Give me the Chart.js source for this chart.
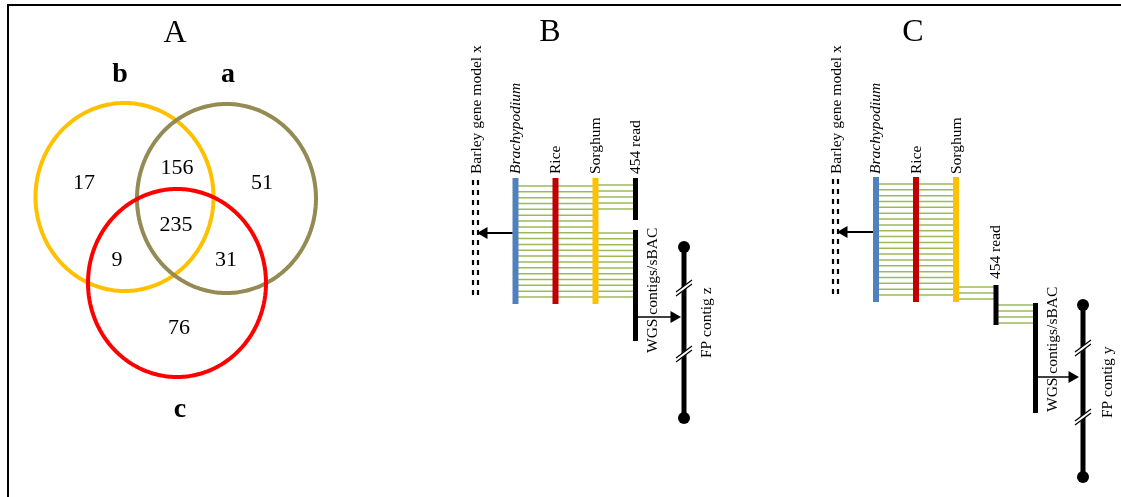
<!DOCTYPE html>
<html>
<head>
<meta charset="utf-8">
<script src="https://cdn.jsdelivr.net/npm/chart.js@4"></script>
<style>
  html, body { margin: 0; padding: 0; background: #fff; }
  #figure { display: block; }
</style>
</head>
<body>
<canvas id="figure" width="1121" height="497"></canvas>
<script>
// panel A: Venn diagram of the sets a, b, c
const panelLabels = ['A', 'B', 'C'];
const vennSets = ['a', 'b', 'c'];
const vennRegions = ['b', 'a+b', 'a', 'a+b+c', 'b+c', 'a+c', 'c'];
const vennCounts = [17, 156, 51, 235, 9, 31, 76];

// panels B and C: tracks of the two schemes
const trackNames = ['Barley gene model x', 'Brachypodium', 'Rice', 'Sorghum', '454 read', 'WGS contigs/sBAC'];
const fpContigs = ['FP contig z', 'FP contig y'];
// green links: Brachypodium-Rice, Rice-Sorghum, Sorghum-454 read, (Sorghum|454 read)-WGS
const linkCountsB = [20, 20, 5, 12];
const linkCountsC = [20, 20, 3, 4];

// ---- layout (pixels of the 1121x497 page) ----
const W = 1121, H = 497;
const serif = '"Liberation Serif", "Times New Roman", serif';
const green = '#9BBB59';

const vennCircles = [ // drawn in this order
  {set: 'b', cx: 124.5, cy: 197, rx: 89, ry: 94, color: '#FFC000'},
  {set: 'a', cx: 226.5, cy: 198.5, rx: 89.5, ry: 94.5, color: '#948A54'},
  {set: 'c', cx: 177, cy: 283, rx: 89, ry: 94, color: '#FF0000'}
];
const vennCountPos = [[84, 183], [177, 168], [262, 183], [176, 225], [117, 260], [226, 260], [179, 328]];
const vennSetPos = {a: [228, 75], b: [120, 75], c: [180, 410]};
const panelPos = [[175, 34], [550, 33], [913, 33]];

const schemes = [
  { // B
    links: linkCountsB, fp: fpContigs[0],
    xBarley: 475.5, xBra: 515.5, xRice: 555.5, xSor: 595.5, xRead: 635.5, xWgs: 635.5, xFp: 684,
    track: [178, 304], dash: [180, 298], read: [178, 220], wgs: [230, 341], fpY: [247, 418], breaks: [288, 354],
    arrowL: 233, arrowR: 317, tipL: 477, tipR: 681,
    linkMain: [186, 297], linkRead: [185, 209], linkWgs: [233, 297], wgsFrom: 'xSor',
    readLabel: [636, 174], wgsLabel: [653, 353], fpLabel: [707, 358]
  },
  { // C
    links: linkCountsC, fp: fpContigs[1],
    xBarley: 835.5, xBra: 876, xRice: 916, xSor: 956, xRead: 996, xWgs: 1035.5, xFp: 1083,
    track: [177, 302], dash: [179, 297], read: [285, 325], wgs: [303, 413], fpY: [305, 477], breaks: [348, 417],
    arrowL: 232, arrowR: 377, tipL: 837, tipR: 1079,
    linkMain: [184, 295], linkRead: [287, 299], linkWgs: [305, 323], wgsFrom: 'xRead',
    readLabel: [996, 279], wgsLabel: [1053, 412], fpLabel: [1108, 418]
  }
];

const datasets = [];
function addLine(points, color, width, extra) {
  datasets.push(Object.assign({
    type: 'line', data: points, borderColor: color, borderWidth: width,
    pointRadius: 0, fill: false, tension: 0, borderCapStyle: 'butt', spanGaps: false
  }, extra || {}));
}
function addMarker(x, y, style, radius, rotation) {
  datasets.push({
    type: 'scatter', data: [{x: x, y: y}], pointStyle: style, pointRadius: radius,
    rotation: rotation, backgroundColor: '#000', borderColor: '#000', borderWidth: 0
  });
}
function vbar(x, y0, y1, color, width) {
  addLine([{x: x, y: y0}, {x: x, y: y1}], color, width);
}
function links(x0, x1, yr, n) {
  const pts = [];
  for (let i = 0; i < n; i++) {
    const y = n > 1 ? yr[0] + (yr[1] - yr[0]) * i / (n - 1) : yr[0];
    pts.push({x: x0, y: y}, {x: x1, y: y}, {x: null, y: null});
  }
  addLine(pts, green, 1.5);
}

// frame
addLine([{x: 8, y: H}, {x: 8, y: 5}, {x: W, y: 5}], '#000', 2);

// Venn circles (tiny tension avoids the fast path that assumes sorted x)
vennCircles.forEach(c => {
  const pts = [];
  for (let i = 0; i <= 144; i++) {
    const t = i / 144 * Math.PI * 2;
    pts.push({x: c.cx + c.rx * Math.cos(t), y: c.cy + c.ry * Math.sin(t)});
  }
  addLine(pts, c.color, 4, {tension: 0.001, borderJoinStyle: 'round'});
});

// schemes B and C
schemes.forEach(s => {
  links(s.xBra, s.xRice, s.linkMain, s.links[0]);
  links(s.xRice, s.xSor, s.linkMain, s.links[1]);
  links(s.xSor, s.xRead, s.linkRead, s.links[2]);
  links(s[s.wgsFrom], s.xWgs, s.linkWgs, s.links[3]);

  // barley gene model: double dashed line
  [-2.5, 2.5].forEach(d => addLine([{x: s.xBarley + d, y: s.dash[0]}, {x: s.xBarley + d, y: s.dash[1]}], '#000', 2.2, {borderDash: [5, 5]}));

  vbar(s.xBra, s.track[0], s.track[1], '#4F81BD', 6);
  vbar(s.xRice, s.track[0], s.track[1], '#C00000', 6);
  vbar(s.xSor, s.track[0], s.track[1], '#FFC000', 6);
  vbar(s.xRead, s.read[0], s.read[1], '#000', 5);
  vbar(s.xWgs, s.wgs[0], s.wgs[1], '#000', 5);
  vbar(s.xFp, s.fpY[0], s.fpY[1], '#000', 5);
  addMarker(s.xFp, s.fpY[0], 'circle', 6, 0);
  addMarker(s.xFp, s.fpY[1], 'circle', 6, 0);

  // breaks on the FP contig
  s.breaks.forEach(b => {
    addLine([{x: s.xFp - 8, y: b + 6}, {x: s.xFp + 8, y: b - 6}], '#fff', 3.5);
    addLine([{x: s.xFp - 8, y: b + 4}, {x: s.xFp + 8, y: b - 8}, {x: null, y: null},
             {x: s.xFp - 8, y: b + 8}, {x: s.xFp + 8, y: b - 4}], '#000', 1.2);
  });

  // arrows
  addLine([{x: s.xBra - 3, y: s.arrowL}, {x: s.tipL + 10, y: s.arrowL}], '#000', 2);
  addMarker(s.tipL + 7, s.arrowL, 'triangle', 7, -90);
  addLine([{x: s.xWgs + 2, y: s.arrowR}, {x: s.tipR - 9, y: s.arrowR}], '#000', 1.5);
  addMarker(s.tipR - 7, s.arrowR, 'triangle', 7, 90);
});

datasets.forEach((d, i) => { d.order = -i; });

// texts
const texts = [];
function addText(text, x, y, font, rotate, align) {
  texts.push({text: text, x: x, y: y, font: font, rotate: rotate, align: align || 'center'});
}
panelLabels.forEach((p, i) => addText(p, panelPos[i][0], panelPos[i][1], '32px ' + serif, false));
vennSets.forEach(s => addText(s, vennSetPos[s][0], vennSetPos[s][1], 'bold 28px ' + serif, false));
vennCounts.forEach((v, i) => addText(String(v), vennCountPos[i][0], vennCountPos[i][1], '22px ' + serif, false));
const lab = '15.5px ' + serif;
schemes.forEach(s => {
  addText(trackNames[0], s.xBarley + 1, 174, lab, true, 'left');
  addText(trackNames[1], s.xBra, 174, 'italic ' + lab, true, 'left');
  addText(trackNames[2], s.xRice + 0.5, 174, lab, true, 'left');
  addText(trackNames[3], s.xSor + 0.5, 174, lab, true, 'left');
  addText(trackNames[4], s.readLabel[0], s.readLabel[1], lab, true, 'left');
  addText(trackNames[5], s.wgsLabel[0], s.wgsLabel[1], lab, true, 'left');
  addText(s.fp, s.fpLabel[0], s.fpLabel[1], lab, true, 'left');
});

const textPlugin = {
  id: 'figureText',
  afterDatasetsDraw(chart) {
    const ctx = chart.ctx, xs = chart.scales.x, ys = chart.scales.y;
    texts.forEach(t => {
      ctx.save();
      ctx.translate(xs.getPixelForValue(t.x), ys.getPixelForValue(t.y));
      if (t.rotate) ctx.rotate(-Math.PI / 2);
      ctx.font = t.font;
      ctx.fillStyle = '#000';
      ctx.textAlign = t.align;
      ctx.textBaseline = 'middle';
      ctx.fillText(t.text, 0, 0);
      ctx.restore();
    });
  }
};

new Chart(document.getElementById('figure'), {
  type: 'scatter',
  data: {datasets: datasets},
  options: {
    responsive: false,
    animation: false,
    events: [],
    layout: {padding: 0, autoPadding: false},
    scales: {
      x: {type: 'linear', min: 0, max: W, display: false},
      y: {type: 'linear', min: 0, max: H, reverse: true, display: false}
    },
    plugins: {legend: {display: false}, tooltip: {enabled: false}}
  },
  plugins: [textPlugin]
});
</script>
</body>
</html>
